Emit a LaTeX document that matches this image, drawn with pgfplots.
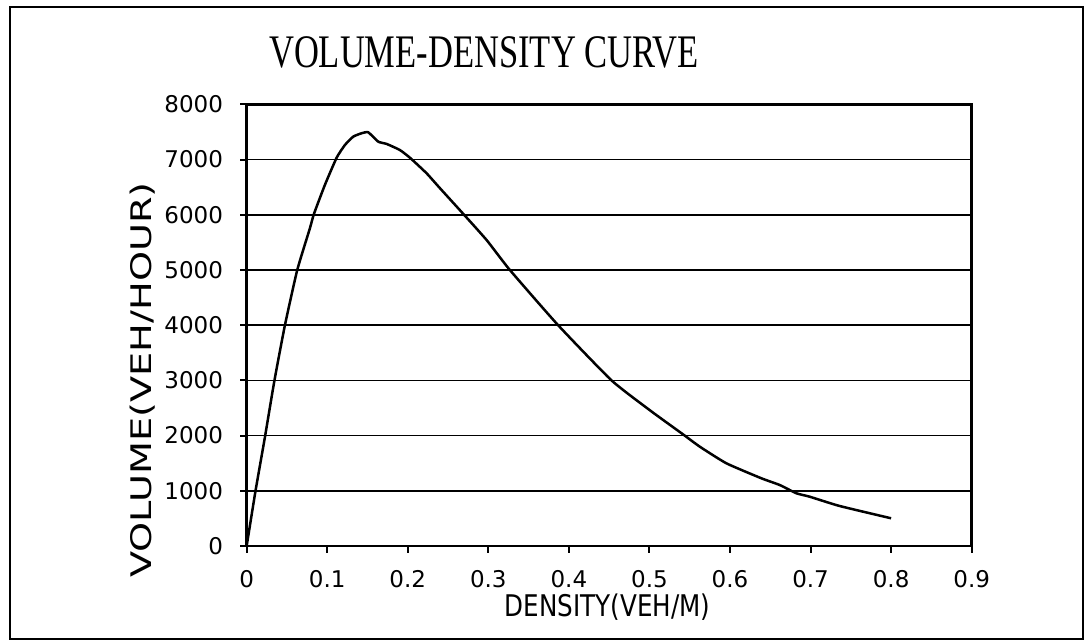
\documentclass[border=0pt]{standalone}
\usepackage{fontspec}
\setmainfont{DejaVu Sans}
\newfontfamily\seriffont{Liberation Serif}
\usepackage{pgfplots}
\pgfplotsset{compat=1.18}
\begin{document}
\begin{tikzpicture}
\useasboundingbox (-148pt,-57pt) rectangle (504.2pt,327.6pt);
\draw[line width=1pt] (-142pt,-55.8pt) rectangle (501.8pt,323.4pt);
\begin{axis}[
  at={(0,0)}, anchor=origin,
  scale only axis,
  width=435pt, height=265pt,
  xmin=0, xmax=0.9, ymin=0, ymax=8000,
  xtick={0,0.1,0.2,0.3,0.4,0.5,0.6,0.7,0.8,0.9},
  xticklabels={0,0.1,0.2,0.3,0.4,0.5,0.6,0.7,0.8,0.9},
  ytick={0,1000,2000,3000,4000,5000,6000,7000,8000},
  yticklabels={0,1000,2000,3000,4000,5000,6000,7000,8000},
  xtick pos=left, ytick pos=left,
  tick align=outside,
  major tick length=4pt,
  every tick/.style={black, line width=1.2pt},
  tick label style={font=\fontsize{13.8}{15}\selectfont, inner sep=0pt},
  xticklabel style={anchor=north, yshift=-10.4pt},
  yticklabel style={anchor=east, xshift=-10pt},
  ymajorgrids,
  grid style={black, line width=1pt},
  axis line style={line width=1.5pt},
  clip=false,
]
\addplot[black, line width=1.5pt, smooth, tension=0.3] coordinates {
(0,0)
(0.011,1000)
(0.023,2000)
(0.0345,3000)
(0.0475,4000)
(0.0628,5000)
(0.0785,5755)
(0.0835,6014)
(0.0971,6540)
(0.1117,7034)
(0.122,7264)
(0.1323,7415)
(0.1427,7476)
(0.1509,7494)
(0.1633,7324)
(0.1737,7283)
(0.190,7174)
(0.2026,7034)
(0.2233,6752)
(0.24,6480)
(0.269,6014)
(0.2978,5543)
(0.3267,5000)
(0.3866,4000)
(0.4529,3000)
(0.5004,2460)
(0.5438,2000)
(0.5624,1800)
(0.5955,1498)
(0.639,1226)
(0.6617,1105)
(0.6824,955)
(0.6989,893)
(0.736,725)
(0.8,502)
};
\end{axis}
\node[anchor=base, font=\seriffont\fontsize{28}{30}\selectfont] at (142.4pt,286.8pt) {\scalebox{0.74}[1]{VOLUME-DENSITY CURVE}};
\node[anchor=base, inner sep=0pt, font=\fontsize{17.9}{20}\selectfont] at (216.5pt,-42.4pt) {\scalebox{0.825}[1]{DENSITY(VEH/M)}};
\node[anchor=base, rotate=90, inner sep=0pt, font=\fontsize{17}{20}\selectfont] at (-57pt,99.6pt) {\scalebox{1.35}[1]{VOLUME(VEH/HOUR)}};
\end{tikzpicture}
\end{document}
